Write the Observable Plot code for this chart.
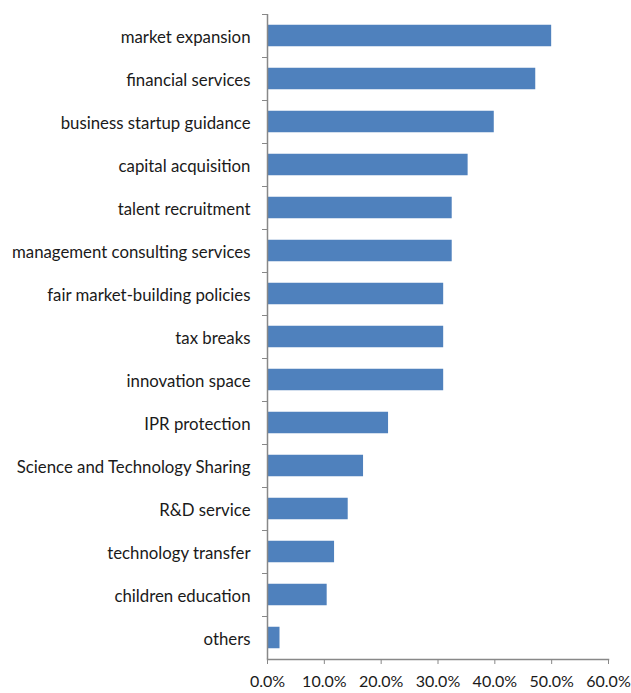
<!DOCTYPE html>
<html>
<head>
<meta charset="utf-8">
<script src="https://cdn.jsdelivr.net/npm/d3@7"></script>
<script src="https://cdn.jsdelivr.net/npm/@observablehq/plot@0.6"></script>
<style>
  html, body { margin: 0; padding: 0; background: #fff; }
  #chart svg { display: block; }
</style>
</head>
<body>
<div id="chart"></div>
<script>
const categories = [
  "market expansion",
  "financial services",
  "business startup guidance",
  "capital acquisition",
  "talent recruitment",
  "management consulting services",
  "fair market-building policies",
  "tax breaks",
  "innovation space",
  "IPR protection",
  "Science and Technology Sharing",
  "R&D service",
  "technology transfer",
  "children education",
  "others"
];
const values = [0.500, 0.472, 0.399, 0.353, 0.325, 0.325, 0.310, 0.310, 0.310, 0.213, 0.169, 0.142, 0.118, 0.105, 0.022];
const xTicks = [0, 0.1, 0.2, 0.3, 0.4, 0.5, 0.6];

const data = categories.map((c, i) => ({category: c, value: values[i]}));

const W = 631, H = 693;
const mTop = 14, mBottom = 34, mLeft = 267, mRight = 23;
const step = (H - mTop - mBottom) / categories.length;

const chart = Plot.plot({
  width: W,
  height: H,
  marginTop: mTop,
  marginBottom: mBottom,
  marginLeft: mLeft,
  marginRight: mRight,
  style: {fontFamily: "Lato, 'Open Sans', sans-serif", fontSize: "16.8px", color: "#1a1a1a", background: "#fff"},
  x: {domain: [0, 0.6]},
  y: {domain: categories, paddingInner: 0.5, paddingOuter: 0.25, round: false},
  marks: [
    Plot.barX(data, {x: "value", y: "category", fill: "#4F81BD"}),
    Plot.ruleX([0], {stroke: "#888", strokeWidth: 1.5}),
    Plot.frame({anchor: "bottom", stroke: "#888", strokeWidth: 1.5}),
    Plot.axisY({tickSize: 0, tickPadding: 17, label: null, fill: "#1a1a1a", dy: 2}),
    Plot.axisY({tickSize: 5, text: null, label: null, dy: -step / 2, stroke: "#888"}),
    Plot.axisX({ticks: xTicks, tickFormat: d3.format(".1%"), tickSize: 5, tickPadding: 11, label: null, stroke: "#888", fill: "#1a1a1a", fontSize: "16px"})
  ]
});
document.getElementById("chart").appendChild(chart);
</script>
</body>
</html>
